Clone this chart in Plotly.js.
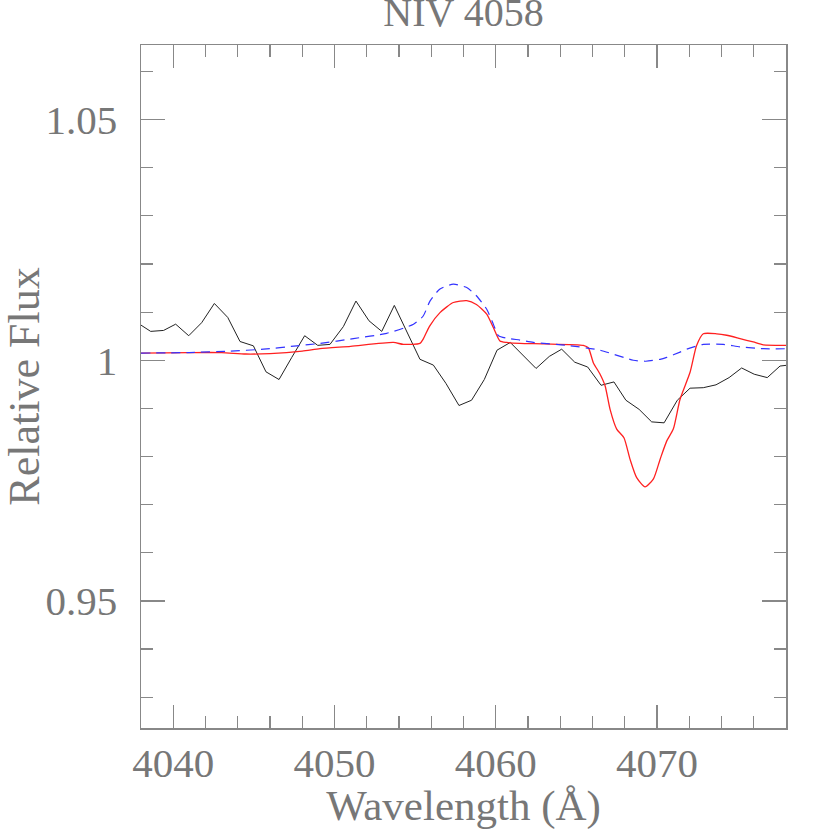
<!DOCTYPE html>
<html>
<head>
<meta charset="utf-8">
<script src="https://cdn.plot.ly/plotly-3.0.1.min.js"></script>
<style>
  body { margin: 0; background: #fff; }
  #g0 { width: 830px; height: 830px; }
</style>
</head>
<body>
<div id="g0"></div>
<script>
// observed spectrum (black)
const obsX = [4037.77, 4038.6, 4039.4, 4040.15, 4040.96, 4041.76, 4042.55, 4043.38, 4044.14, 4044.97,
  4045.75, 4046.56, 4047.35, 4048.15, 4048.96, 4049.72, 4050.55, 4051.33, 4052.14, 4052.93,
  4053.71, 4054.5, 4055.3, 4056.13, 4056.91, 4057.72, 4058.5, 4059.29, 4060.08, 4060.9,
  4061.7, 4062.5, 4063.32, 4064.09, 4064.9, 4065.7, 4066.53, 4067.33, 4068.07, 4068.89,
  4069.67, 4070.44, 4071.26, 4072.05, 4072.87, 4073.66, 4074.47, 4075.25, 4076.03, 4076.84,
  4077.63, 4078.43];
const obsY = [1.0078, 1.0060, 1.0062, 1.0075, 1.0051, 1.0078, 1.0118, 1.0089, 1.0039, 1.0030,
  0.9976, 0.9960, 1.0006, 1.0051, 1.0031, 1.0033, 1.0070, 1.0123, 1.0082, 1.0060,
  1.0114, 1.0058, 1.0002, 0.9990, 0.9952, 0.9906, 0.9917, 0.9960, 1.0021, 1.0037,
  1.0011, 0.9983, 1.0008, 1.0023, 0.9996, 0.9986, 0.9948, 0.9955, 0.9917, 0.9898,
  0.9872, 0.9870, 0.9917, 0.9942, 0.9943, 0.9949, 0.9964, 0.9984, 0.9971, 0.9964,
  0.9988, 0.9991];

// model 1 (red)
const redX = [4038, 4041, 4043, 4044.5, 4046, 4048, 4049.1, 4051, 4053.65, 4054.27,
  4055.3, 4055.5, 4055.9, 4056.54, 4057.37, 4058.2, 4058.8, 4059.44, 4059.85, 4060.26,
  4060.68, 4061.5, 4063, 4065.43, 4065.74, 4066.05, 4066.47, 4066.78, 4067.09, 4067.5,
  4067.95, 4068.33, 4068.74, 4069.26, 4069.77, 4070.19, 4070.6, 4071.01, 4071.43, 4072.05,
  4072.45, 4072.87, 4073.7, 4074.32, 4075.15, 4075.97, 4076.6, 4078];
const redY = [1.0015, 1.0016, 1.0016, 1.0013, 1.0014, 1.0019, 1.0024, 1.0029, 1.0037, 1.0033,
  1.0035, 1.0044, 1.0071, 1.0099, 1.0120, 1.0124, 1.0116, 1.0096, 1.0068, 1.0040,
  1.0037, 1.0035, 1.0034, 1.0031, 1.0026, 0.9995, 0.9971, 0.9947, 0.9898, 0.9857,
  0.9839, 0.9794, 0.9756, 0.9737, 0.9753, 0.9794, 0.9832, 0.9857, 0.9919, 0.9975,
  1.0030, 1.0055, 1.0055, 1.0052, 1.0045, 1.0038, 1.0032, 1.0031];

// model 2 (blue dashed)
const blueX = [4038, 4041, 4043.5, 4045.6, 4047.66, 4049.1, 4051.17, 4053.24, 4054.9, 4055.5,
  4055.92, 4056.54, 4057.37, 4058.2, 4058.8, 4059.44, 4059.85, 4060.17, 4060.88, 4061.5,
  4062.33, 4064.4, 4066.47, 4068.53, 4069.3, 4070.19, 4070.6, 4071.43, 4071.84, 4072.87,
  4074.11, 4075.15, 4076.6, 4078];
const blueY = [1.0015, 1.0016, 1.0019, 1.0023, 1.0030, 1.0035, 1.0045, 1.0056, 1.0075, 1.0092,
  1.0123, 1.0148, 1.0158, 1.0151, 1.0134, 1.0106, 1.0075, 1.0051, 1.0045, 1.0042,
  1.0037, 1.0031, 1.0021, 1.0000, 0.9998, 1.0002, 1.0006, 1.0017, 1.0023, 1.0033,
  1.0033, 1.0028, 1.0024, 1.0024];

const xTicks = [4040, 4050, 4060, 4070];
const xTickText = ['4040', '4050', '4060', '4070'];
const yTicks = [0.95, 1, 1.05];
const yTickText = ['0.95', '1', '1.05'];

const fontName = 'Liberation Serif';
const textGrey = '#777';
const axisGrey = '#888';

const data = [
  {x: obsX, y: obsY, type: 'scatter', mode: 'lines', line: {color: '#222', width: 1}},
  {x: redX, y: redY, type: 'scatter', mode: 'lines', line: {color: '#ff2020', width: 1.3, shape: 'spline', smoothing: 0.6}},
  {x: blueX, y: blueY, type: 'scatter', mode: 'lines', line: {color: '#3333ff', width: 1.2, dash: '9px,6px', shape: 'spline', smoothing: 0.6}}
];

const axisCommon = {
  showline: true, linecolor: axisGrey, linewidth: 1.5, mirror: 'allticks',
  ticks: 'inside', tickcolor: axisGrey, tickwidth: 1.2,
  showgrid: false, zeroline: false, tickmode: 'array',
  tickfont: {family: fontName, size: 41, color: textGrey}
};

const layout = {
  width: 830, height: 830,
  margin: {l: 141, r: 44, t: 45, b: 102},
  paper_bgcolor: '#fff', plot_bgcolor: '#fff',
  showlegend: false,
  title: {text: 'NIV 4058', font: {family: fontName, size: 40, color: textGrey},
    x: 0.5585, xanchor: 'center', y: 0.985, yanchor: 'middle', yref: 'container'},
  xaxis: Object.assign({}, axisCommon, {
    range: [4038, 4078], tickvals: xTicks, ticktext: xTickText, ticklen: 23,
    ticklabelstandoff: -2,
    minor: {tickmode: 'linear', tick0: 0, dtick: 2, ticklen: 12, ticks: 'inside', tickcolor: axisGrey, tickwidth: 1.2},
    title: {text: 'Wavelength (Å)', font: {family: fontName, size: 43, color: textGrey}, standoff: 16}
  }),
  yaxis: Object.assign({}, axisCommon, {
    range: [0.9236, 1.0655], tickvals: yTicks, ticktext: yTickText, ticklen: 24,
    ticklabelstandoff: 14,
    minor: {tickmode: 'linear', tick0: 0, dtick: 0.01, ticklen: 12, ticks: 'inside', tickcolor: axisGrey, tickwidth: 1.2},
    title: {text: 'Relative Flux', font: {family: fontName, size: 44, color: textGrey}, standoff: 0}
  })
};

Plotly.newPlot('g0', data, layout, {staticPlot: true});
</script>
</body>
</html>
